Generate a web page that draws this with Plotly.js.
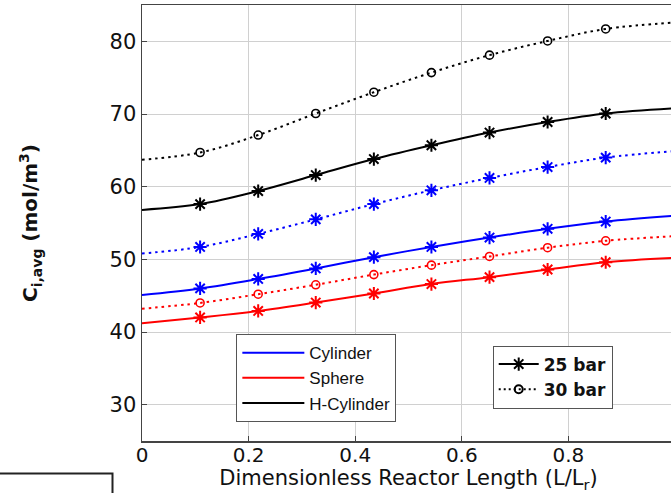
<!DOCTYPE html>
<html>
<head>
<meta charset="utf-8">
<script src="https://cdn.plot.ly/plotly-3.0.1.min.js"></script>
<style>
  html, body { margin: 0; padding: 0; overflow: hidden; background: #fff; }
  #chart { width: 680px; height: 493px; }
</style>
</head>
<body>
<div id="chart"></div>
<script>
// ---- data ----
const markerX = [0.109, 0.218, 0.326, 0.435, 0.543, 0.652, 0.761, 0.870];
const startX = 0;
const endX = 1;

const cyl25  = [45.1, 46.0, 47.3, 48.75, 50.3, 51.7, 53.0, 54.2, 55.2, 56.0];
const cyl30  = [50.8, 51.7, 53.5, 55.5, 57.6, 59.5, 61.2, 62.7, 64.0, 64.9];
const sph25  = [41.2, 42.0, 42.9, 44.05, 45.3, 46.6, 47.55, 48.6, 49.6, 50.2];
const sph30  = [43.2, 44.0, 45.2, 46.5, 47.9, 49.2, 50.4, 51.6, 52.55, 53.2];
const hcyl25 = [56.8, 57.6, 59.4, 61.6, 63.8, 65.7, 67.45, 68.9, 70.07, 70.8];
const hcyl30 = [63.7, 64.7, 67.1, 70.07, 73.0, 75.7, 78.1, 80.05, 81.7, 82.6];

const shapeNames = ["Cylinder", "Sphere", "H-Cylinder"];
const pressureNames = ["25 bar", "30 bar"];
const yTicks = [30, 40, 50, 60, 70, 80];
const xTicks = [0, 0.2, 0.4, 0.6, 0.8, 1];
const xTickText = ["0", "0.2", "0.4", "0.6", "0.8", "1"];

// ---- styles ----
const BLUE = "#0000ff", RED = "#ff0000", BLACK = "#000000";
const DOT = "2.5px,4px";
const lineX = [startX].concat(markerX, [endX]);

function series(y, color, dash, symbol) {
  const lineTrace = {
    x: lineX, y: y, type: "scatter", mode: "lines",
    line: { color: color, width: 2, dash: dash, shape: "spline", smoothing: 1 },
    showlegend: false, hoverinfo: "skip"
  };
  const markTrace = {
    x: markerX, y: y.slice(1, y.length - 1), type: "scatter", mode: "markers",
    marker: symbol === "circle-open"
      ? { symbol: symbol, size: 8, color: color, line: { color: color, width: 1.6 } }
      : { symbol: symbol, size: 11, color: color, line: { color: color, width: 2 } },
    showlegend: false
  };
  return [lineTrace, markTrace];
}

const data = [].concat(
  series(hcyl30, BLACK, DOT, "circle-open"),
  series(hcyl25, BLACK, "solid", "asterisk-open"),
  series(cyl30, BLUE, DOT, "asterisk-open"),
  series(cyl25, BLUE, "solid", "asterisk-open"),
  series(sph30, RED, DOT, "circle-open"),
  series(sph25, RED, "solid", "asterisk-open")
);

// legend 1 : geometry colours
[BLUE, RED, BLACK].forEach((c, i) => {
  data.push({
    x: [null], y: [null], type: "scatter", mode: "lines",
    name: shapeNames[i], line: { color: c, width: 2 }, legend: "legend"
  });
});
// legend 2 : pressure line styles
data.push({
  x: [null], y: [null], type: "scatter", mode: "lines+markers",
  name: "<b>" + pressureNames[0] + "</b>", legend: "legend2",
  line: { color: BLACK, width: 2 },
  marker: { symbol: "asterisk-open", size: 11, color: BLACK, line: { color: BLACK, width: 2 } }
});
data.push({
  x: [null], y: [null], type: "scatter", mode: "lines+markers",
  name: "<b>" + pressureNames[1] + "</b>", legend: "legend2",
  line: { color: BLACK, width: 2, dash: "2px,3px" },
  marker: { symbol: "circle-open", size: 8, color: BLACK, line: { color: BLACK, width: 2 } }
});

const AXIS_COLOR = "#444";
const layout = {
  width: 680, height: 493,
  margin: { l: 142, r: 5, t: 5, b: 52 },
  paper_bgcolor: "#fff", plot_bgcolor: "#fff",
  font: { family: "DejaVu Sans", color: "#111" },
  xaxis: {
    range: [0, 1], tickvals: xTicks, ticktext: xTickText,
    showgrid: true, gridcolor: "#d0d0d0", gridwidth: 1,
    zeroline: false, showline: true, linecolor: AXIS_COLOR, linewidth: 1.5, mirror: true,
    ticks: "inside", ticklen: 5, tickcolor: AXIS_COLOR,
    ticklabelstandoff: -5,
    tickfont: { family: "DejaVu Sans", size: 20, color: "#111" },
    title: { text: "Dimensionless Reactor Length (L/L<sub>r</sub>)",
             font: { family: "DejaVu Sans", size: 21, color: "#111" }, standoff: 0 }
  },
  yaxis: {
    range: [25, 85], tickvals: yTicks,
    showgrid: true, gridcolor: "#d0d0d0", gridwidth: 1,
    zeroline: false, showline: true, linecolor: AXIS_COLOR, linewidth: 1.5, mirror: true,
    ticks: "inside", ticklen: 5, tickcolor: AXIS_COLOR,
    tickfont: { family: "DejaVu Sans", size: 21, color: "#111" },
    title: { text: "<b>C<sub>i,avg</sub> (mol/m<sup>3</sup>)</b>",
             font: { family: "DejaVu Sans", size: 20, color: "#111" }, standoff: 66 }
  },
  legend: {
    x: 0.177, y: 0.245, xanchor: "left", yanchor: "top",
    bgcolor: "#fff", bordercolor: "#555", borderwidth: 1,
    font: { family: "Liberation Sans", size: 17, color: "#111" },
    itemwidth: 62
  },
  legend2: {
    x: 0.658, y: 0.219, xanchor: "left", yanchor: "top",
    bgcolor: "#fff", bordercolor: "#555", borderwidth: 1,
    font: { family: "DejaVu Sans", size: 17, color: "#111" },
    itemwidth: 40
  }
};

// stray frame at lower-left of the reference (pixel-based decoration)
(function () {
  const pw = layout.width - layout.margin.l - layout.margin.r;
  const ph = layout.height - layout.margin.t - layout.margin.b;
  const px = v => (v - layout.margin.l) / pw;
  const py = v => (layout.height - layout.margin.b - v) / ph;
  layout.shapes = [{
    type: "path", xref: "paper", yref: "paper",
    path: "M " + px(-5) + "," + py(473.5) + " L " + px(112.5) + "," + py(473.5) +
          " L " + px(112.5) + "," + py(500),
    line: { color: "#222", width: 2 }
  }];
})();

Plotly.newPlot("chart", data, layout, { displayModeBar: false, staticPlot: true });
</script>
</body>
</html>
